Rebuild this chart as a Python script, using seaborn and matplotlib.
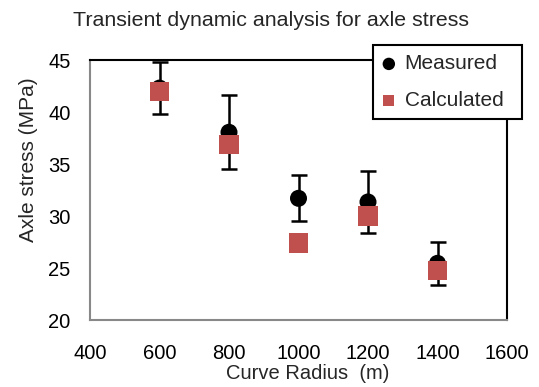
import matplotlib
matplotlib.use("Agg")
import matplotlib.pyplot as plt
import seaborn as sns
import pandas as pd

radius = [600, 800, 1000, 1200, 1400]
measured = [42.3, 38.05, 31.7, 31.35, 25.45]
measured_err = [2.5, 3.55, 2.2, 2.95, 2.05]
calculated = [42.0, 36.9, 27.4, 30.0, 24.8]

sns.set_theme(style="white")
plt.rcParams['font.family'] = ['Liberation Sans', 'DejaVu Sans']

fig = plt.figure(figsize=(5.39, 3.87), dpi=100)
ax = fig.add_axes([90/539, 1-320/387, 417/539, 260/387])

dm = pd.DataFrame({"x": radius, "y": measured, "s": "Measured"})
dc = pd.DataFrame({"x": radius, "y": calculated, "s": "Calculated"})

ax.errorbar(radius, measured, yerr=measured_err, fmt="none", ecolor="black",
            elinewidth=1.8, capsize=5.5, capthick=1.8, zorder=2)
sns.scatterplot(data=dm, x="x", y="y", ax=ax, color="black", marker="o",
                s=150, edgecolor="none", zorder=3, label="Measured")
sns.scatterplot(data=dc, x="x", y="y", ax=ax, color="#C0504D", marker="s",
                s=190, edgecolor="none", zorder=4, label="Calculated")

ax.set_xlim(400, 1600)
ax.set_ylim(20, 45)
ax.set_xticks([400, 600, 800, 1000, 1200, 1400, 1600])
ax.set_yticks([20, 25, 30, 35, 40, 45])
ax.tick_params(axis="both", direction="in", length=5, width=1.5, color="#888888",
               labelsize=14.5, labelcolor="black")
ax.tick_params(axis="x", pad=17)
ax.tick_params(axis="y", pad=14)
for s in ["left", "bottom"]:
    ax.spines[s].set_color("#888888")
    ax.spines[s].set_linewidth(1.5)
for s in ["top", "right"]:
    ax.spines[s].set_color("black")
    ax.spines[s].set_linewidth(1.5)

ax.set_xlabel("Curve Radius  (m)", fontsize=14.5)
ax.set_ylabel("Axle stress (MPa)", fontsize=15)
ax.xaxis.set_label_coords((308-90)/417, (320-364)/260)
ax.yaxis.set_label_coords((38-90)/417, (320-160)/260)
fig.text(271/539, 1-20/387, "Transient dynamic analysis for axle stress",
         fontsize=15.4, ha="center", va="center")

leg = ax.legend(loc="upper left", bbox_to_anchor=(373/539, 1-118/387, 149/539, 73/387),
                bbox_transform=fig.transFigure, mode="expand", borderaxespad=0,
                fancybox=False, frameon=True, edgecolor="black", fontsize=15,
                handletextpad=0.45, handlelength=0.62,
                borderpad=0.45, labelspacing=0.85, framealpha=1)
leg.get_frame().set_linewidth(1.5)
leg.set_zorder(10)
hs = leg.legend_handles
hs[0].set_sizes([80])
hs[1].set_sizes([62])

fig.savefig("out.png", dpi=100)
